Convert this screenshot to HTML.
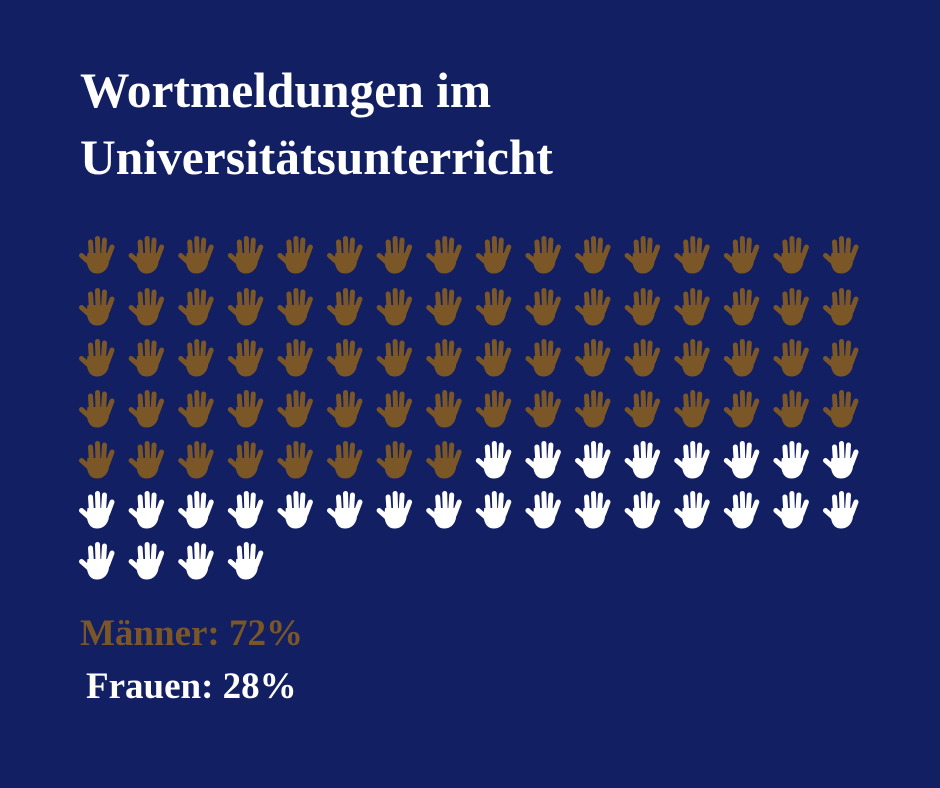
<!DOCTYPE html>
<html><head><style>
html,body{margin:0;padding:0}
body{width:940px;height:788px;background:#121f62;position:relative;overflow:hidden;font-family:"Liberation Serif",serif}
.t{position:absolute;left:80px;color:#fff;font-weight:bold;font-size:49.5px;white-space:nowrap}
.l{position:absolute;font-weight:bold;font-size:37px;white-space:nowrap}
svg.g{position:absolute;left:0;top:0}
</style></head><body>
<div class="t" style="top:62px">Wortmeldungen im</div>
<div class="t" style="top:129px">Universitätsunterricht</div>
<svg class="g" width="940" height="788">
<defs>
<g id="h">
<g stroke-linecap="round" stroke-width="5" fill="none">
<line x1="11.5" y1="6" x2="12.5" y2="21"/>
<line x1="18.5" y1="2.5" x2="19" y2="20"/>
<line x1="25.5" y1="4" x2="24.5" y2="20"/>
<line x1="33" y1="11" x2="28.5" y2="23"/>
<line x1="2.5" y1="19.5" x2="11" y2="27"/>
</g>
<path d="M8.5,17 L30,17 Q31,26 28.5,31 Q25,37.5 18,37.5 Q11.5,37.5 9,31 Q7,26 8.5,17Z" stroke="none"/>
</g>
</defs>
<g id="grid"></g>
</svg>
<div class="l" style="left:80px;top:612px;color:#7b5727">Männer: 72%</div>
<div class="l" style="left:86px;top:665px;color:#fff">Frauen: 28%</div>
<script>
var g=document.getElementById('grid'),s='';
var ys=[236,288,339,390,441,491,542];
for(var i=0;i<100;i++){var r=Math.floor(i/16),c=i%16;var x=79+c*49.6,y=ys[r];
var col=i<72?'#7b5727':'#ffffff';
s+='<use href="#h" x="'+x.toFixed(1)+'" y="'+y+'" fill="'+col+'" stroke="'+col+'"/>';}
g.innerHTML=s;
</script>
</body></html>
